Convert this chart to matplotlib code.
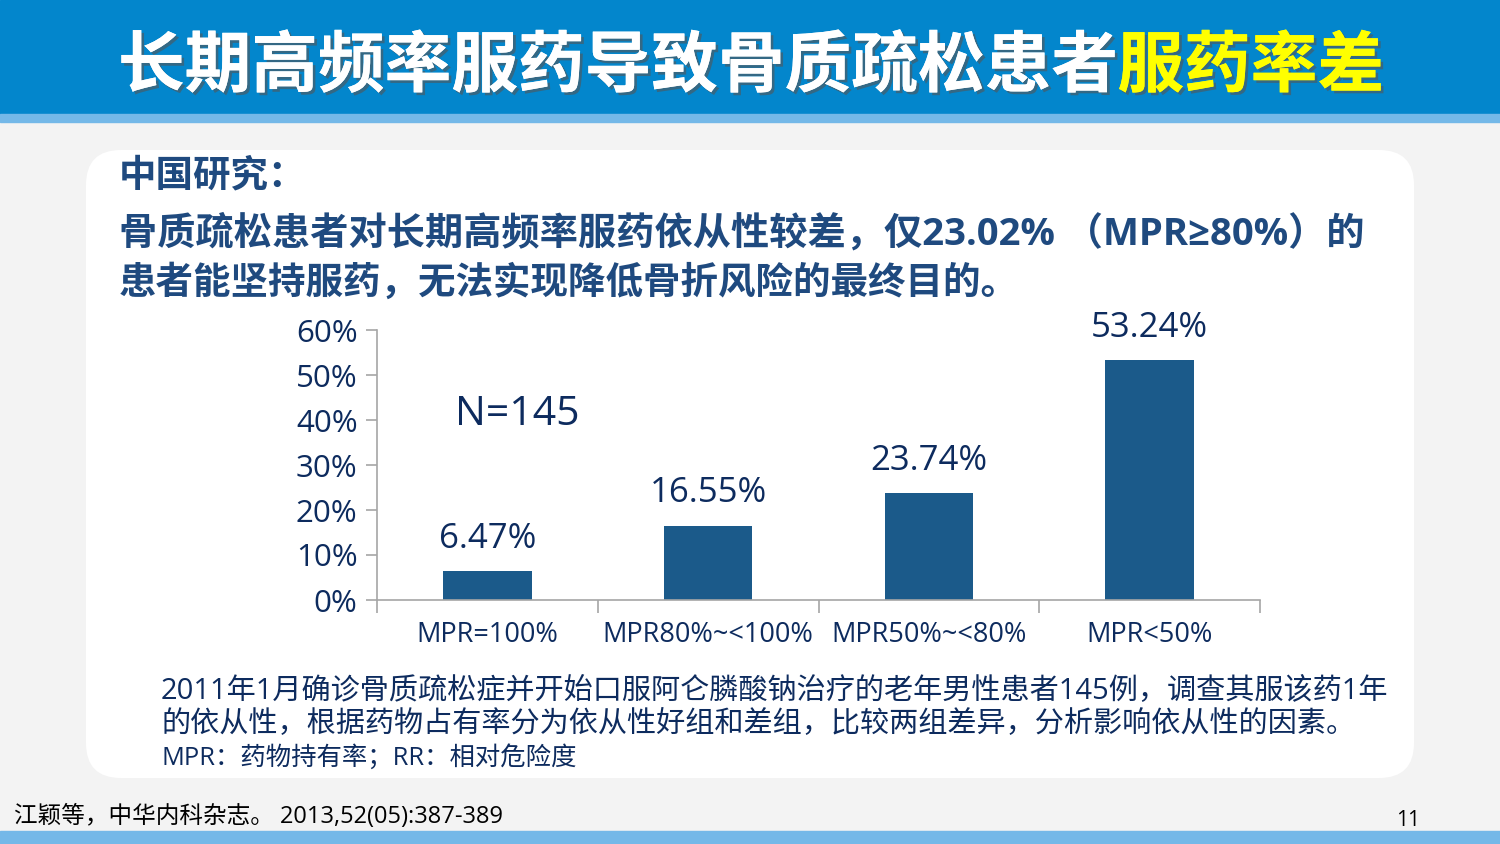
import matplotlib.pyplot as plt
import matplotlib.patheffects as pe
from matplotlib.patches import FancyBboxPatch, Rectangle
from matplotlib.ticker import PercentFormatter, FixedLocator

plt.rcParams['font.family'] = ['Open Sans', 'Noto Sans CJK SC', 'DejaVu Sans']

# data
categories = ['MPR=100%', 'MPR80%~<100%', 'MPR50%~<80%', 'MPR<50%']
values = [6.47, 16.55, 23.74, 53.24]
yticks = [0, 10, 20, 30, 40, 50, 60]

title_white = '长期高频率服药导致骨质疏松患者'
title_yellow = '服药率差'
head = '中国研究：'
lead1 = '骨质疏松患者对长期高频率服药依从性较差，仅23.02% （MPR≥80%）的'
lead2 = '患者能坚持服药，无法实现降低骨折风险的最终目的。'
note1 = '2011年1月确诊骨质疏松症并开始口服阿仑膦酸钠治疗的老年男性患者145例，调查其服该药1年'
note2 = '的依从性，根据药物占有率分为依从性好组和差组，比较两组差异，分析影响依从性的因素。'
note3 = 'MPR：药物持有率；RR：相对危险度'
source = '江颖等，中华内科杂志。 2013,52(05):387-389'
page = '11'

W, H = 1500, 844
fig = plt.figure(figsize=(15, 8.44), dpi=100)
fig.patch.set_facecolor('#F3F3F3')

# background layer in pixel coords
bg = fig.add_axes([0, 0, 1, 1])
bg.set_xlim(0, W)
bg.set_ylim(H, 0)
bg.axis('off')
bg.add_patch(Rectangle((0, 0), W, 114, color='#0386CC', zorder=1))
bg.add_patch(Rectangle((0, 114), W, 8, color='#74B8E8', zorder=1))
bg.add_patch(Rectangle((0, 831), W, 13, color='#74B8E8', zorder=1))
bg.add_patch(FancyBboxPatch((86, 150), 1328, 628,
                            boxstyle='round,pad=0,rounding_size=35',
                            fc='white', ec='none', zorder=1))

shadow = [pe.withSimplePatchShadow(offset=(2, -2), shadow_rgbFace='#555555', alpha=0.6), pe.Normal()]
tfam = ['Noto Sans CJK SC', 'DejaVu Sans']
t1 = bg.text(118, 67, title_white, color='white', fontsize=48, fontweight='bold', family=tfam,
             va='center', ha='left', zorder=3, path_effects=shadow)
fig.canvas.draw()
bb = t1.get_window_extent(renderer=fig.canvas.get_renderer())
bg.text(bb.x1, 67, title_yellow, color='#FFFF00', fontsize=48, fontweight='bold', family=tfam,
        va='center', ha='left', zorder=3, path_effects=shadow)

dark = '#1F4A7F'
bg.text(119, 176, head, color=dark, fontsize=27, fontweight='bold', va='center', zorder=3)
bg.text(119, 234, lead1, color=dark, fontsize=27.5, fontweight='bold', va='center', zorder=3)
bg.text(119, 284, lead2, color=dark, fontsize=27, fontweight='bold', va='center', zorder=3)

navy = '#0D2B5E'
bg.text(161, 691, note1, color=navy, fontsize=21, va='center', zorder=3)
bg.text(161, 725, note2, color=navy, fontsize=21, va='center', zorder=3)
bg.text(161, 758, note3, color=navy, fontsize=18.3, va='center', zorder=3)
bg.text(14, 817, source, color='black', fontsize=17, va='center', zorder=3)
bg.text(1408, 821, page, color='black', fontsize=15, va='center', ha='center', zorder=3)

# chart
x0, x1, ytop, ybot = 377, 1260, 330, 600
ax = fig.add_axes([x0 / W, (H - ybot) / H, (x1 - x0) / W, (ybot - ytop) / H])
ax.patch.set_alpha(0)
xs = range(len(values))
ax.bar(xs, values, width=0.4, color='#1B5A8A', zorder=2)
ax.set_xlim(-0.5, len(values) - 0.5)
ax.set_ylim(0, 60)
ax.set_yticks(yticks)
ax.yaxis.set_major_formatter(PercentFormatter(decimals=0))
ax.set_xticks(list(xs))
ax.set_xticklabels(categories)
ax.xaxis.set_minor_locator(FixedLocator([i - 0.5 for i in range(len(values) + 1)]))
ax.tick_params(axis='x', which='major', length=0, pad=15, labelsize=19.5, labelcolor=navy)
ax.tick_params(axis='x', which='minor', length=9, color='#A6A6A6', width=1.2)
ax.tick_params(axis='y', length=8, color='#A6A6A6', width=1.2, pad=6, labelsize=22.5, labelcolor=navy)
for s in ['top', 'right']:
    ax.spines[s].set_visible(False)
for s in ['left', 'bottom']:
    ax.spines[s].set_color('#A6A6A6')
    ax.spines[s].set_linewidth(1.2)

for x, v in zip(xs, values):
    ax.annotate(f'{v:.2f}%', (x, v), xytext=(0, 11), textcoords='offset points',
                ha='center', va='bottom', fontsize=25, color=navy)
ax.text(0.159, 0.685, 'N=145', transform=ax.transAxes, ha='center', va='center',
        fontsize=29.5, color=navy)

fig.savefig('out.png', dpi=100, facecolor=fig.get_facecolor())
